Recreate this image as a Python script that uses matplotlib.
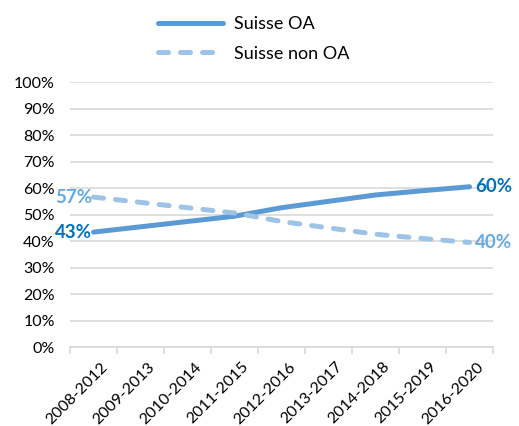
import matplotlib
matplotlib.use("Agg")
import matplotlib.pyplot as plt

periods = ["2008-2012", "2009-2013", "2010-2014", "2011-2015", "2012-2016",
           "2013-2017", "2014-2018", "2015-2019", "2016-2020"]
suisse_oa = [43.4, 45.4, 47.4, 49.4, 52.6, 55.0, 57.4, 59.0, 60.5]
suisse_non_oa = [56.6, 54.6, 52.6, 50.6, 47.4, 45.0, 42.6, 41.0, 39.5]
oa_labels = ["43%", "60%"]
non_oa_labels = ["57%", "40%"]

plt.rcParams['font.family'] = ['Lato', 'DejaVu Sans']

fig = plt.figure(figsize=(5.19, 4.26), dpi=100)
ax = fig.add_axes([0.135, 0.185, 0.815, 0.6225])

x = list(range(len(periods)))
l1, = ax.plot(x, suisse_oa, color="#5B9BD5", lw=3.6, solid_capstyle="round",
              label="Suisse OA")
l2, = ax.plot(x, suisse_non_oa, color="#9DC3E6", lw=3.6, dashes=(2.0, 2.4),
              dash_capstyle="round", label="Suisse non OA")

# étiquettes de données (premier et dernier point)
ax.text(x[0] - 0.03, suisse_oa[0], oa_labels[0], ha="right", va="center",
        color="#0070C0", fontsize=13.5, fontweight="bold")
ax.text(x[-1] + 0.12, suisse_oa[-1], oa_labels[1], ha="left", va="center",
        color="#0070C0", fontsize=13.5, fontweight="bold")
ax.text(x[0] - 0.03, suisse_non_oa[0], non_oa_labels[0], ha="right", va="center",
        color="#63AAE2", fontsize=13.5, fontweight="bold")
ax.text(x[-1] + 0.12, suisse_non_oa[-1], non_oa_labels[1], ha="left", va="center",
        color="#63AAE2", fontsize=13.5, fontweight="bold")

ax.set_xlim(-0.5, len(periods) - 0.5)
ax.set_ylim(0, 100)
ax.set_yticks(range(0, 101, 10))
ax.set_yticklabels([f"{v}%" for v in range(0, 101, 10)], fontsize=11.5)
ax.yaxis.grid(True, color="#D9D9D9", lw=1.2)
ax.set_axisbelow(True)
ax.tick_params(axis="y", length=0, pad=11)

ax.set_xticks([i + 0.5 for i in range(-1, len(periods))], minor=False)
ax.set_xticklabels([])
ax.set_xticks([i + 0.15 for i in x], minor=True)
ax.set_xticklabels(periods, minor=True, rotation=45, ha="right",
                   rotation_mode="anchor", fontsize=11.5)
ax.tick_params(axis="x", which="major", length=5, color="#D9D9D9", width=1.2)
ax.tick_params(axis="x", which="minor", length=0, pad=9)

for side in ["top", "right", "left"]:
    ax.spines[side].set_visible(False)
ax.spines["bottom"].set_color("#D9D9D9")
ax.spines["bottom"].set_linewidth(1.2)

fig.legend(handles=[l1, l2], loc="upper left", bbox_to_anchor=(0.274, 1.0),
           frameon=False, fontsize=13, handlelength=3.6, labelspacing=0.75,
           handletextpad=0.6)

fig.savefig("out.png", dpi=100)
